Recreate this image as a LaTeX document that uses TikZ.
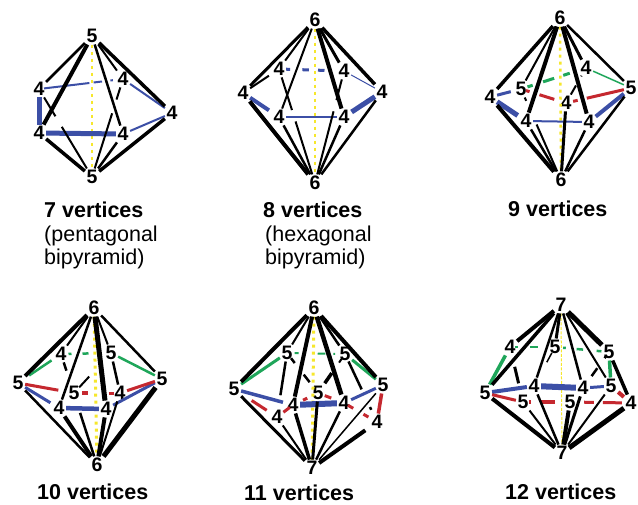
\documentclass[tikz,border=0pt]{standalone}
\usepackage{fontspec}
\setmainfont{Liberation Sans}
\usetikzlibrary{calc}

% piece of an edge, between fractions s and t
\newcommand{\edgebit}[5]{\draw[#1] ($(#2)!#4!(#3)$) -- ($(#2)!#5!(#3)$);}
% whole edge with one hole in it
\newcommand{\gapedge}[5]{\draw[#1] (#2) -- ($(#2)!#4!(#3)$) ($(#2)!#5!(#3)$) -- (#3);}

\begin{document}
\begin{tikzpicture}[x=1pt,y=-1pt,
  blk/.style={black,line width=#1pt},
  blu/.style={colBlue,line width=#1pt},
  rdd/.style={colRed,line width=#1pt},
  grn/.style={colGreen,line width=#1pt},
  ylw/.style={colYellow,line width=#1pt,dash pattern=on 3pt off 4pt},
  dig/.style={font=\fontsize{19.5}{19.5}\selectfont\bfseries,inner sep=1.5pt},
  vtitle/.style={anchor=base west,inner sep=0pt,font=\fontsize{21.5}{21.5}\selectfont\bfseries},
  vnote/.style={anchor=base west,inner sep=0pt,font=\fontsize{21.5}{21.5}\selectfont}]

\definecolor{colBlue}{HTML}{3C4FA6}
\definecolor{colRed}{HTML}{C5282F}
\definecolor{colGreen}{HTML}{1FA65A}
\definecolor{colYellow}{HTML}{F6E72C}

\useasboundingbox (0,0) rectangle (638,504);

% 7 vertices
\node[dig] (At) at (92,36) {5};
\node[dig] (Ab) at (92,177) {5};
\node[dig] (Ac) at (39,89) {4};
\node[dig] (Ad) at (39,133) {4};
\node[dig] (Ae) at (123,79) {4};
\node[dig] (Af) at (123,134) {4};
\node[dig] (Ag) at (172,113) {4};
\draw[ylw=2.5] (At) -- (Ab);
\edgebit{blu=2}{Ac}{Ae}{.06}{.6}
\edgebit{blu=2}{Ac}{Ae}{.65}{.75}
\edgebit{blu=2}{Ac}{Ae}{.85}{.88}
\draw[blu=2] (Ae) -- (Ag);
\draw[blu=5] (Ac) -- (Ad);
\draw[blu=5] (Ad) -- (Af);
\draw[blu=2] (Af) -- (Ag);
\draw[blk=2.5] (At) -- (Ac);
\draw[blk=4] (At) -- (Ad);
\draw[blk=2] (At) -- (Ae);
\draw[blk=2.5] (At) -- (Af);
\draw[blk=3.5] (At) -- (Ag);
\gapedge{blk=2}{Ab}{Ac}{.57}{.69}
\draw[blk=3.5] (Ab) -- (Ad);
\gapedge{blk=2}{Ab}{Ae}{.65}{.79}
\draw[blk=2.5] (Ab) -- (Af);
\draw[blk=3.5] (Ab) -- (Ag);
\node[vtitle] (Aname) at (44,217) {7 vertices};
\node[vnote] (Ashape) at (44,241) {(pentagonal};
\node[vnote] (Ashapeb) at (44,264) {bipyramid)};

% 8 vertices
\node[dig] (Bt) at (315,20) {6};
\node[dig] (Bb) at (315,183) {6};
\node[dig] (Bc) at (243,93) {4};
\node[dig] (Bd) at (279,69) {4};
\node[dig] (Be) at (344,71) {4};
\node[dig] (Bf) at (279,117) {4};
\node[dig] (Bg) at (344,117) {4};
\node[dig] (Bh) at (382,92) {4};
\draw[ylw=2.5] (Bt) -- (Bb);
\draw[blu=4] (Bc) -- ($(Bc)!.72!(Bf)$);
\edgebit{blu=3}{Bd}{Be}{.11}{.17}
\edgebit{blu=3}{Bd}{Be}{.36}{.46}
\edgebit{blu=3}{Bd}{Be}{.6}{.7}
\draw[blu=1] (Be) -- (Bh);
\draw[blu=2.5] (Bf) -- (Bg);
\draw[blu=5] (Bh) -- ($(Bh)!.8!(Bg)$);
\draw[blk=3] (Bt) -- (Bc);
\draw[blk=2] (Bt) -- (Bd);
\draw[blk=2] (Bt) -- (Bf);
\draw[blk=3] (Bt) -- (Be);
\draw[blk=4] (Bt) -- (Bg);
\draw[blk=3.5] (Bt) -- (Bh);
\draw[blk=2] (Bc) -- ($(Bc)!.72!(Bd)$);
\draw[blk=4] (Bb) -- (Bc);
\draw[blk=2.5] (Bb) -- (Bf);
\gapedge{blk=2}{Bb}{Bd}{.54}{.64}
\draw[blk=2.5] (Bb) -- (Bg);
\gapedge{blk=2}{Bb}{Be}{.64}{.74}
\draw[blk=2.5] (Bb) -- (Bh);
\node[vtitle] (Bname) at (263,217) {8 vertices};
\node[vnote] (Bshape) at (265,241) {(hexagonal};
\node[vnote] (Bshapeb) at (265,264) {bipyramid)};

% 9 vertices
\node[dig] (Ct) at (560,18) {6};
\node[dig] (Cb) at (561,180) {6};
\node[dig] (Cc) at (490,97) {4};
\node[dig] (Cd) at (521,89) {5};
\node[dig] (Ce) at (586,68) {4};
\node[dig] (Cf) at (566,103) {4};
\node[dig] (Cg) at (526,121) {4};
\node[dig] (Ch) at (589,122) {4};
\node[dig] (Ci) at (631,88) {5};
\draw[ylw=2.5] (Ct) -- (Cb);
\draw[blu=3] (Cc) -- ($(Cc)!.67!(Cd)$);
\draw[blu=5] (Cc) -- ($(Cc)!.77!(Cg)$);
\draw[blu=2] (Cg) -- (Ch);
\draw[blu=4] (Ci) -- ($(Ci)!.84!(Ch)$);
\edgebit{grn=3}{Cd}{Ce}{.1}{.18}
\edgebit{grn=3}{Cd}{Ce}{.34}{.51}
\edgebit{grn=3}{Cd}{Ce}{.65}{.75}
\draw[grn=1.5] (Ce) -- (Ci);
\edgebit{rdd=3}{Cd}{Cf}{.11}{.19}
\edgebit{rdd=3}{Cd}{Cf}{.41}{.74}
\edgebit{rdd=3}{Cf}{Ci}{.11}{.18}
\draw[rdd=3] ($(Cf)!.32!(Ci)$) -- (Ci);
\draw[blk=3.5] (Ct) -- (Cc);
\draw[blk=2] (Ct) -- (Cd);
\draw[blk=4] (Ct) -- (Cg);
\draw[blk=4] (Ct) -- (Ch);
\draw[blk=3] (Ct) -- (Ce);
\draw[blk=2.5] (Ct) -- (Ci);
\gapedge{blk=2}{Ce}{Cf}{.22}{.5}
\draw[blk=4] (Cb) -- (Cc);
\gapedge{blk=2}{Cb}{Cd}{.61}{.87}
\draw[blk=2.5] (Cb) -- (Cg);
\draw[blk=3] (Cb) -- (Cf);
\draw[blk=2.5] (Cb) -- (Ch);
\draw[blk=2.5] (Cb) -- (Ci);
\node[vtitle] (Cname) at (508,216) {9 vertices};

% 10 vertices
\node[dig] (Dt) at (94,308) {6};
\node[dig] (Db) at (97,465) {6};
\node[dig] (Dc) at (18,383) {5};
\node[dig] (Dd) at (61,354) {4};
\node[dig] (De) at (111,353) {5};
\node[dig] (Df) at (74,393) {5};
\node[dig] (Dg) at (120,393) {4};
\node[dig] (Dh) at (59,408) {4};
\node[dig] (Di) at (106,409) {4};
\node[dig] (Dj) at (162,379) {5};
\draw[ylw=3] (Dt) -- (Db);
\draw[blu=3] (Dc) -- ($(Dc)!.79!(Dh)$);
\draw[blu=4.5] (Dh) -- (Di);
\draw[blu=3] (Di) -- (Dj);
\draw[rdd=3] (Dc) -- ($(Dc)!.72!(Df)$);
\edgebit{rdd=4}{Df}{Dg}{.17}{.31}
\edgebit{rdd=3}{Df}{Dg}{.75}{.86}
\draw[rdd=3] (Dg) -- (Dj);
\edgebit{grn=2.5}{Dc}{Dd}{.26}{.78}
\edgebit{grn=2.5}{Dd}{De}{.15}{.21}
\edgebit{grn=2.5}{Dd}{De}{.43}{.55}
\draw[grn=2.5] (De) -- (Dj);
\draw[blk=4] (Dt) -- (Dc);
\draw[blk=2] (Dt) -- (Dd);
\draw[blk=2.5] (Dt) -- (Dh);
\draw[blk=5] (Dt) -- (Di);
\draw[blk=2] (Dt) -- (De);
\draw[blk=2.5] (Dt) -- (Dj);
\gapedge{blk=2.5}{Dd}{Db}{.15}{.53}
\draw[blk=2.5] (De) -- (Dg);
\edgebit{blk=2}{Df}{De}{.14}{.41}
\draw[blk=2] (Db) -- (Dg);
\draw[blk=2.5] (Db) -- (Dc);
\draw[blk=4] (Db) -- (Dh);
\draw[blk=4] (Db) -- (Di);
\draw[blk=5] (Db) -- (Dj);
\node[vtitle] (Dname) at (37,499) {10 vertices};

% 11 vertices
\node[dig] (Et) at (314,308) {6};
\node[dig] (Eb) at (312,468) {7};
\node[dig] (Ec) at (234,389) {5};
\node[dig] (Ed) at (287,353) {5};
\node[dig] (Ee) at (345,354) {5};
\node[dig] (Ef) at (318,393) {5};
\node[dig] (Eg) at (293,405) {4};
\node[dig] (Eh) at (344,403) {4};
\node[dig] (Ei) at (277,417) {4};
\node[dig] (Ej) at (383,385) {5};
\node[dig] (Ek) at (377,422) {4};
\draw[ylw=3] (Et) -- (Eb);
\draw[blu=3.5] (Ec) -- ($(Ec)!.83!(Eg)$);
\draw[blu=6] (Eg) -- (Eh);
\draw[blu=3] (Eh) -- (Ej);
\edgebit{rdd=3}{Ec}{Ei}{.41}{.76}
\edgebit{rdd=3}{Ei}{Eg}{.4}{.8}
\edgebit{rdd=3}{Eg}{Ef}{.4}{.57}
\edgebit{rdd=3}{Ef}{Eh}{.26}{.51}
\edgebit{rdd=3}{Eh}{Ek}{.12}{.28}
\edgebit{rdd=3}{Eh}{Ek}{.59}{.74}
\draw[rdd=3.5] (Ek) -- (Ej);
\draw[grn=3] (Ec) -- (Ed);
\edgebit{grn=2}{Ed}{Ee}{.13}{.2}
\edgebit{grn=2}{Ed}{Ee}{.53}{.66}
\edgebit{grn=2}{Ed}{Ee}{.8}{.83}
\draw[grn=3] (Ee) -- (Ej);
\draw[blk=4] (Et) -- (Ec);
\draw[blk=2] (Et) -- (Ed);
\draw[blk=4] (Et) -- (Eg);
\draw[blk=4.5] (Et) -- (Eh);
\draw[blk=2.5] (Et) -- (Ee);
\draw[blk=4] (Et) -- (Ej);
\draw[blk=2.5] (Ed) -- ($(Ed)!.66!(Ei)$);
\edgebit{blk=2.5}{Ed}{Ef}{.13}{.25}
\edgebit{blk=2.5}{Ed}{Ef}{.54}{.73}
\edgebit{blk=3.5}{Ee}{Ef}{.49}{.75}
\edgebit{blk=2}{Ee}{Ef}{.11}{.22}
\edgebit{blk=2.5}{Ee}{Ek}{.11}{.52}
\edgebit{blk=2.5}{Ee}{Ek}{.78}{.82}
\draw[blk=3] (Eb) -- (Ec);
\draw[blk=2] (Eb) -- (Ei);
\draw[blk=3.5] (Eb) -- (Eg);
\draw[blk=3] (Eb) -- (Ef);
\draw[blk=2.5] (Eb) -- (Eh);
\draw[blk=1.5] (Eb) -- (Ej);
\draw[blk=4] (Eb) -- ($(Eb)!.82!(Ek)$);
\node[vtitle] (Ename) at (244,500) {11 vertices};

% 12 vertices
\node[dig] (Ft) at (561,305) {7};
\node[dig] (Fb) at (562,453) {7};
\node[dig] (Fc) at (485,393) {5};
\node[dig] (Fd) at (510,347) {4};
\node[dig] (Fe) at (555,347) {5};
\node[dig] (Ff) at (609,352) {5};
\node[dig] (Fg) at (534,386) {4};
\node[dig] (Fh) at (583,388) {4};
\node[dig] (Fi) at (611,386) {5};
\node[dig] (Fj) at (523,402) {5};
\node[dig] (Fk) at (570,402) {5};
\node[dig] (Fl) at (631,403) {4};
\draw[colYellow,line width=1pt,dash pattern=on 3pt off 1.5pt] (Ft) -- (Fb);
\draw[blu=4] (Fc) -- (Fg);
\draw[blu=6] (Fg) -- (Fh);
\draw[blu=3] (Fh) -- (Fi);
\draw[rdd=3] (Fc) -- (Fj);
\edgebit{rdd=4}{Fj}{Fk}{.12}{.16}
\edgebit{rdd=4}{Fj}{Fk}{.38}{.69}
\edgebit{rdd=3}{Fk}{Fl}{.23}{.39}
\edgebit{rdd=3}{Fk}{Fl}{.54}{.85}
\draw[rdd=4] (Fi) -- (Fl);
\draw[grn=3.5] (Fc) -- (Fd);
\edgebit{grn=2.5}{Fd}{Fe}{.11}{.18}
\edgebit{grn=2.5}{Fd}{Fe}{.44}{.63}
\edgebit{grn=2.5}{Fe}{Ff}{.15}{.2}
\edgebit{grn=2.5}{Fe}{Ff}{.4}{.52}
\edgebit{grn=2.5}{Fe}{Ff}{.77}{.86}
\draw[grn=3.5] (Ff) -- (Fi);
\draw[blk=3.5] (Ft) -- (Fc);
\draw[blk=4] (Ft) -- (Fd);
\draw[blk=3] (Ft) -- (Fe);
\draw[blk=2.5] (Ft) -- (Fg);
\draw[blk=2.5] (Ft) -- (Fh);
\draw[blk=2] (Ft) -- (Fi);
\draw[blk=5] (Ft) -- (Ff);
\edgebit{blk=3}{Fd}{Fj}{.36}{.66}
\edgebit{blk=1.5}{Fe}{Fg}{.15}{.39}
\draw[blk=3.5] (Ff) -- (Fl);
\edgebit{blk=2.5}{Ff}{Fh}{.45}{.67}
\edgebit{blk=2.5}{Ff}{Fh}{.12}{.17}
\draw[blk=4] (Fb) -- (Fc);
\draw[blk=2] (Fb) -- (Fj);
\draw[blk=2.5] (Fb) -- (Fg);
\draw[blk=4] (Fb) -- (Fk);
\draw[blk=3] (Fb) -- (Fh);
\draw[blk=2] (Fb) -- (Fi);
\draw[blk=5] (Fb) -- (Fl);
\node[vtitle] (Fname) at (505,499) {12 vertices};

\end{tikzpicture}
\end{document}
